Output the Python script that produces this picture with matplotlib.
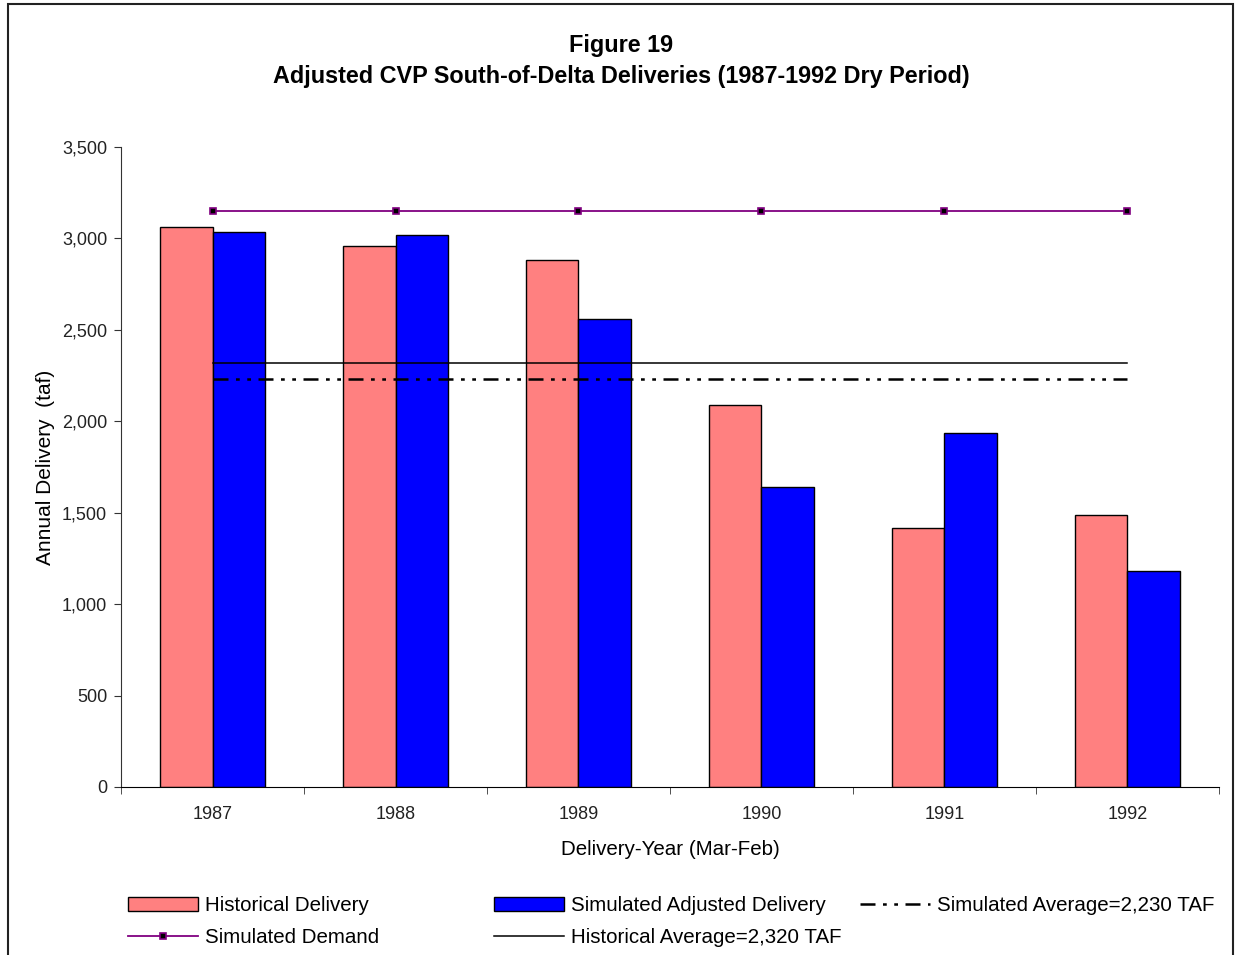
import numpy as np
import matplotlib
matplotlib.use("Agg")
from matplotlib import pyplot as plt
from matplotlib.patches import Rectangle
from matplotlib.ticker import FuncFormatter

matplotlib.rcParams['font.family'] = ['Liberation Sans', 'DejaVu Sans']

years = ['1987', '1988', '1989', '1990', '1991', '1992']
historical = [3065, 2958, 2880, 2090, 1415, 1485]
simulated = [3035, 3020, 2562, 1640, 1935, 1180]
demand = [3150, 3150, 3150, 3150, 3150, 3150]
hist_avg = 2320
sim_avg = 2230
yticks = [0, 500, 1000, 1500, 2000, 2500, 3000, 3500]

fig = plt.figure(figsize=(12.35, 9.55), dpi=100)
ax = fig.add_axes([0.098, 0.176, 0.889, 0.670])

x = np.arange(len(years))
w = 0.285
hb = ax.bar(x, historical, width=-w, align='edge', color='#ff8080',
            edgecolor='black', linewidth=1, zorder=2, label='Historical Delivery')
sb = ax.bar(x, simulated, width=w, align='edge', color='#0000ff',
            edgecolor='black', linewidth=1, zorder=2, label='Simulated Adjusted Delivery')

dl, = ax.plot(x, demand, color='#800080', linewidth=1.3, marker='s', markersize=4,
              markerfacecolor='black', markeredgecolor='#800080', markeredgewidth=1.2,
              zorder=3, label='Simulated Demand')
hl, = ax.plot(x, [hist_avg] * len(x), color='black', linewidth=1.1, zorder=3,
              label='Historical Average=2,320 TAF')
sl, = ax.plot(x, [sim_avg] * len(x), color='black', linewidth=1.8, zorder=3,
              dashes=(6, 3, 1.5, 3, 1.5, 3), label='Simulated Average=2,230 TAF')

ax.set_xlim(-0.5, 5.5)
ax.set_ylim(0, 3500)
ax.set_yticks(yticks)
ax.yaxis.set_major_formatter(FuncFormatter(lambda v, p: f'{int(v):,}'))
ax.set_xticks(x)
ax.set_xticklabels(years)
ax.set_xticks(np.arange(-0.5, 6, 1), minor=True)
ax.tick_params(axis='x', which='major', length=0, pad=14, labelsize=13, labelcolor='#222222')
ax.tick_params(axis='x', which='minor', length=5, color='#333333')
ax.tick_params(axis='y', length=5, pad=5, labelsize=13, labelcolor='#222222', color='#333333')
for s in ['top', 'right']:
    ax.spines[s].set_visible(False)
ax.spines['left'].set_color('#333333')
ax.spines['bottom'].set_color('black')

ax.set_xlabel('Delivery-Year (Mar-Feb)', fontsize=14.8, labelpad=12)
ax.set_ylabel('Annual Delivery  (taf)', fontsize=15, labelpad=5)

fig.text(0.503, 0.952, 'Figure 19', ha='center', va='center', fontsize=16.8, fontweight='bold')
fig.text(0.503, 0.920, 'Adjusted CVP South-of-Delta Deliveries (1987-1992 Dry Period)',
         ha='center', va='center', fontsize=16.8, fontweight='bold')

leg_kw = dict(frameon=False, fontsize=14.8, handlelength=3.4, handletextpad=0.34,
              borderpad=0, borderaxespad=0, labelspacing=0.65, loc='upper left')
fig.legend([hb, dl], ['Historical Delivery', 'Simulated Demand'],
           bbox_to_anchor=(128 / 1235, 1 - 896 / 955), **leg_kw)
fig.legend([sb, hl], ['Simulated Adjusted Delivery', 'Historical Average=2,320 TAF'],
           bbox_to_anchor=(494 / 1235, 1 - 896 / 955), **leg_kw)
fig.legend([sl], ['Simulated Average=2,230 TAF'],
           bbox_to_anchor=(860 / 1235, 1 - 896 / 955), **leg_kw)

fig.patches.append(Rectangle((8 / 1235, -0.02), 1225 / 1235, 0.02 + 1 - 4 / 955,
                             transform=fig.transFigure, fill=False,
                             edgecolor='#222222', linewidth=1.5))

fig.savefig('out.png', dpi=100)
